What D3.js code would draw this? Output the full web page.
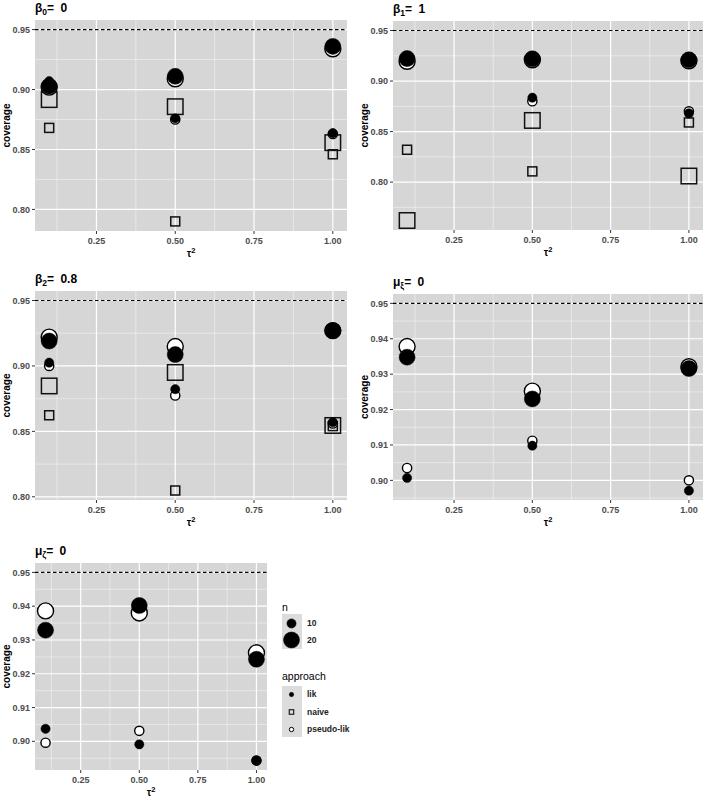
<!DOCTYPE html>
<html>
<head>
<meta charset="utf-8">
<script src="https://cdn.jsdelivr.net/npm/d3@7"></script>
<style>
  body { margin: 0; background: #fff; }
  svg { font-family: "Liberation Sans", Arial, sans-serif; }
  .tick-label { font-size: 9px; font-weight: bold; fill: #4d4d4d; }
  .axis-title { font-size: 10px; font-weight: bold; fill: #000; }
  .panel-title { font-size: 12px; font-weight: bold; fill: #000; }
  .legend-title { font-size: 10.5px; fill: #000; }
  .legend-label { font-size: 8.5px; font-weight: bold; fill: #222; }
</style>
</head>
<body>
<svg id="chart"></svg>
<script>
// x values (tau^2) shared by all panels
const tauValues = [0.1, 0.5, 1.0];
const xTicks = [0.25, 0.50, 0.75, 1.00];
const xMinor = [0.125, 0.375, 0.625, 0.875];
const nominal = 0.95;

// series order for the coverage tables below
const seriesApproach = ['naive', 'naive', 'pseudo-lik', 'pseudo-lik', 'lik', 'lik'];
const seriesN = [10, 20, 10, 20, 10, 20];

// coverage, one row per series (same order as above), one column per tau value
const beta0Cov = [
    [0.868, 0.790, 0.846],
    [0.8916, 0.8857, 0.8557],
    [0.905, 0.875, 0.863],
    [0.902, 0.909, 0.934],
    [0.907, 0.876, 0.8636],
    [0.9028, 0.911, 0.936]
];
const beta1Cov = [
    [0.832, 0.8106, 0.859],
    [0.762, 0.861, 0.806],
    [0.920, 0.880, 0.870],
    [0.9195, 0.921, 0.920],
    [0.921, 0.8835, 0.868],
    [0.9222, 0.922, 0.921]
];
const beta2Cov = [
    [0.8623, 0.8048, 0.854],
    [0.8847, 0.895, 0.8545],
    [0.900, 0.8774, 0.856],
    [0.922, 0.9148, 0.927],
    [0.9025, 0.8822, 0.857],
    [0.919, 0.9087, 0.927]
];
const muXiCov = [
    [null, null, null],
    [null, null, null],
    [0.9035, 0.9112, 0.900],
    [0.9378, 0.9252, 0.9321],
    [0.9007, 0.9098, 0.8971],
    [0.9348, 0.923, 0.9316]
];
const muZetaCov = [
    [null, null, null],
    [null, null, null],
    [0.8996, 0.9031, 0.8943],
    [0.9386, 0.938, 0.9262],
    [0.9037, 0.8991, 0.8943],
    [0.9329, 0.9402, 0.9243]
];

const yTicksBeta = [0.80, 0.85, 0.90, 0.95];
const yTicksMu = [0.90, 0.91, 0.92, 0.93, 0.94, 0.95];

const nLegend = [10, 20];
const approachLegend = ['lik', 'naive', 'pseudo-lik'];

const W = 709, H = 802;
const svg = d3.select('#chart').attr('width', W).attr('height', H);

const panels = [
    {sym: 'β', sub: '0', val: '0', data: beta0Cov, ticks: yTicksBeta, box: {x: 35, y: 20, w: 312, h: 211}},
    {sym: 'β', sub: '1', val: '1', data: beta1Cov, ticks: yTicksBeta, box: {x: 393, y: 21, w: 310, h: 209}},
    {sym: 'β', sub: '2', val: '0.8', data: beta2Cov, ticks: yTicksBeta, box: {x: 35, y: 291, w: 312, h: 209}},
    {sym: 'μ', sub: 'ξ', val: '0', data: muXiCov, ticks: yTicksMu, box: {x: 393, y: 294, w: 310, h: 206}},
    {sym: 'μ', sub: 'ζ', val: '0', data: muZetaCov, ticks: yTicksMu, box: {x: 35, y: 563, w: 232, h: 207}}
];

const bg = '#d6d6d6';
const sizeN = {10: 4.6, 20: 8};          // circle radius
const sideN = {10: 9, 20: 15.5};         // square side

function drawMark(g, approach, cx, cy, n, small) {
    if (approach === 'naive') {
        const s = small ? 4.5 : sideN[n];
        g.append('rect')
            .attr('x', cx - s / 2).attr('y', cy - s / 2)
            .attr('width', s).attr('height', s)
            .attr('fill', 'none').attr('stroke', '#111').attr('stroke-width', small ? 1.1 : 1.5);
    } else {
        const r = small ? 2.2 : sizeN[n];
        g.append('circle')
            .attr('cx', cx).attr('cy', cy).attr('r', r)
            .attr('fill', approach === 'lik' ? '#000' : '#fff')
            .attr('stroke', '#000')
            .attr('stroke-width', approach === 'lik' ? 0.5 : (small ? 1 : 1.4));
    }
}

panels.forEach(p => {
    const b = p.box;
    const g = svg.append('g');

    // y domain: data range plus reference line, 5% expansion like ggplot
    const vals = p.data.flat().filter(v => v !== null).concat([nominal]);
    const [lo, hi] = d3.extent(vals);
    const pad = (hi - lo) * 0.05;
    const y = d3.scaleLinear().domain([lo - pad, hi + pad]).range([b.y + b.h, b.y]);
    const xPad = (1.0 - 0.1) * 0.05;
    const x = d3.scaleLinear().domain([0.1 - xPad, 1.0 + xPad]).range([b.x, b.x + b.w]);

    g.append('rect').attr('x', b.x).attr('y', b.y).attr('width', b.w).attr('height', b.h).attr('fill', bg);

    // minor grid
    const step = p.ticks[1] - p.ticks[0];
    const yMinor = d3.range(p.ticks[0] - step / 2, 0.96, step).filter(v => v > y.domain()[0] && v < y.domain()[1]);
    g.selectAll('.ymin').data(yMinor).join('line')
        .attr('x1', b.x).attr('x2', b.x + b.w)
        .attr('y1', d => y(d)).attr('y2', d => y(d))
        .attr('stroke', '#f4f4f4').attr('stroke-width', 0.6);
    g.selectAll('.xmin').data(xMinor).join('line')
        .attr('y1', b.y).attr('y2', b.y + b.h)
        .attr('x1', d => x(d)).attr('x2', d => x(d))
        .attr('stroke', '#f4f4f4').attr('stroke-width', 0.6);

    // major grid
    const yMajor = p.ticks.filter(v => v >= y.domain()[0]);
    g.selectAll('.ymaj').data(yMajor).join('line')
        .attr('x1', b.x).attr('x2', b.x + b.w)
        .attr('y1', d => y(d)).attr('y2', d => y(d))
        .attr('stroke', '#fff').attr('stroke-width', 1.2);
    g.selectAll('.xmaj').data(xTicks).join('line')
        .attr('y1', b.y).attr('y2', b.y + b.h)
        .attr('x1', d => x(d)).attr('x2', d => x(d))
        .attr('stroke', '#fff').attr('stroke-width', 1.2);

    // nominal level
    g.append('line')
        .attr('x1', b.x).attr('x2', b.x + b.w)
        .attr('y1', y(nominal)).attr('y2', y(nominal))
        .attr('stroke', '#000').attr('stroke-width', 1.1)
        .attr('stroke-dasharray', '3.5,2.5');

    // points
    p.data.forEach((row, i) => {
        row.forEach((v, j) => {
            if (v === null) return;
            drawMark(g, seriesApproach[i], x(tauValues[j]), y(v), seriesN[i], false);
        });
    });

    // ticks
    g.selectAll('.yt').data(yMajor).join('line')
        .attr('x1', b.x - 3).attr('x2', b.x)
        .attr('y1', d => y(d)).attr('y2', d => y(d))
        .attr('stroke', '#333').attr('stroke-width', 1);
    g.selectAll('.ytl').data(yMajor).join('text')
        .attr('class', 'tick-label')
        .attr('x', b.x - 5).attr('y', d => y(d)).attr('dy', '0.35em')
        .attr('text-anchor', 'end')
        .text(d3.format('.2f'));
    g.selectAll('.xt').data(xTicks).join('line')
        .attr('y1', b.y + b.h).attr('y2', b.y + b.h + 3)
        .attr('x1', d => x(d)).attr('x2', d => x(d))
        .attr('stroke', '#333').attr('stroke-width', 1);
    g.selectAll('.xtl').data(xTicks).join('text')
        .attr('class', 'tick-label')
        .attr('x', d => x(d)).attr('y', b.y + b.h + 12.5)
        .attr('text-anchor', 'middle')
        .text(d3.format('.2f'));

    // axis titles
    const xt = g.append('text').attr('class', 'axis-title')
        .attr('x', b.x + b.w / 2).attr('y', b.y + b.h + 26)
        .attr('text-anchor', 'middle');
    xt.append('tspan').text('τ');
    xt.append('tspan').attr('dy', -4).style('font-size', '7.5px').text('2');

    g.append('text').attr('class', 'axis-title')
        .attr('transform', `translate(${b.x - 25},${b.y + b.h / 2}) rotate(-90)`)
        .attr('text-anchor', 'middle')
        .text('coverage');

    // panel title
    const t = g.append('text').attr('class', 'panel-title')
        .attr('x', b.x).attr('y', b.y - 8);
    t.append('tspan').text(p.sym);
    t.append('tspan').attr('dy', 3).style('font-size', '8.5px').text(p.sub);
    t.append('tspan').attr('dy', -3).text('= ');
    t.append('tspan').attr('dx', 3).text(p.val);
});

// legend next to the last panel
const lg = svg.append('g').attr('transform', 'translate(282,0)');
lg.append('text').attr('class', 'legend-title').attr('x', 0).attr('y', 611).text('n');
lg.append('rect').attr('x', 0).attr('y', 614).attr('width', 20).attr('height', 35).attr('fill', '#dcdcdc');
const nY = d3.scalePoint().domain(nLegend).range([623.5, 640]);
nLegend.forEach(n => {
    drawMark(lg, 'lik', 9.5, nY(n), n, false);
    lg.append('text').attr('class', 'legend-label').attr('x', 25).attr('y', nY(n)).attr('dy', '0.35em').text(n);
});

lg.append('text').attr('class', 'legend-title').attr('x', 0).attr('y', 680).text('approach');
lg.append('rect').attr('x', 0).attr('y', 686).attr('width', 20).attr('height', 51).attr('fill', '#dcdcdc');
const aY = d3.scalePoint().domain(approachLegend).range([694.5, 729.5]);
approachLegend.forEach(a => {
    drawMark(lg, a, 9.5, aY(a), 10, true);
    lg.append('text').attr('class', 'legend-label').attr('x', 25).attr('y', aY(a)).attr('dy', '0.35em').text(a);
});
</script>
</body>
</html>
